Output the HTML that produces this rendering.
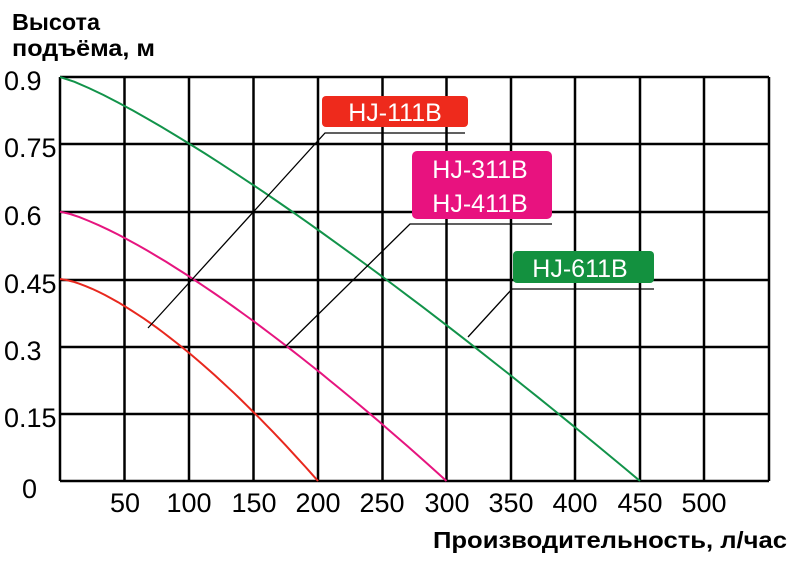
<!DOCTYPE html>
<html><head><meta charset="utf-8"><style>
html,body{margin:0;padding:0;background:#fff;}
svg{display:block;}
text{font-family:"Liberation Sans",sans-serif;}
</style></head><body>
<svg id="s" width="800" height="561" viewBox="0 0 800 561" xmlns="http://www.w3.org/2000/svg">
<g stroke="#000" stroke-width="2.5" fill="none">
<line x1="60" y1="77" x2="769" y2="77"/><line x1="60" y1="144" x2="769" y2="144"/><line x1="60" y1="212" x2="769" y2="212"/><line x1="60" y1="280" x2="769" y2="280"/><line x1="60" y1="347" x2="769" y2="347"/><line x1="60" y1="414" x2="769" y2="414"/><line x1="60" y1="481" x2="769" y2="481"/>
<line x1="60" y1="77" x2="60" y2="481"/><line x1="124.5" y1="77" x2="124.5" y2="481"/><line x1="189" y1="77" x2="189" y2="481"/><line x1="253.5" y1="77" x2="253.5" y2="481"/><line x1="318" y1="77" x2="318" y2="481"/><line x1="382.5" y1="77" x2="382.5" y2="481"/><line x1="446.5" y1="77" x2="446.5" y2="481"/><line x1="511" y1="77" x2="511" y2="481"/><line x1="575" y1="77" x2="575" y2="481"/><line x1="640" y1="77" x2="640" y2="481"/><line x1="704" y1="77" x2="704" y2="481"/><line x1="769" y1="77" x2="769" y2="481"/>
</g>
<path id="r" fill="none" stroke="#e8281e" stroke-width="2"/>
<path id="p" fill="none" stroke="#e6157f" stroke-width="2"/>
<path id="g" fill="none" stroke="#12934a" stroke-width="2"/>
<g stroke="#000" stroke-width="1.3" fill="none">
<polyline points="148,328 325,133 465,133"/>
<polyline points="285,347 410,224 552,224"/>
<polyline points="468,337 512,289 654,289"/>
</g>
<rect x="322" y="96" width="146" height="31" rx="4" fill="#ee2a1c"/>
<rect x="412" y="151" width="140" height="68" rx="5" fill="#e8127f"/>
<rect x="513" y="251" width="141" height="32" rx="4" fill="#13913f"/>
<g fill="#fff" font-size="25" text-anchor="middle">
<text x="395" y="121">HJ-111B</text>
<text x="480" y="178">HJ-311B</text>
<text x="480" y="212">HJ-411B</text>
<text x="580" y="277">HJ-611B</text>
</g>
<g fill="#000" font-size="27">
<text x="4" y="90">0.9</text><text x="4" y="157">0.75</text><text x="4" y="225">0.6</text><text x="4" y="293">0.45</text><text x="4" y="360">0.3</text><text x="4" y="427">0.15</text><text x="22" y="498">0</text>
</g>
<g fill="#000" font-size="27" text-anchor="middle">
<text x="125" y="512">50</text><text x="189" y="512">100</text><text x="254" y="512">150</text><text x="318" y="512">200</text><text x="382" y="512">250</text><text x="447" y="512">300</text><text x="511" y="512">350</text><text x="575" y="512">400</text><text x="640" y="512">450</text><text x="704" y="512">500</text>
</g>
<g fill="#000" font-size="23" font-weight="bold">
<text x="12" y="30" textLength="88" lengthAdjust="spacingAndGlyphs">Высота</text>
<text x="12" y="56" textLength="143" lengthAdjust="spacingAndGlyphs">подъёма, м</text>
<text x="433" y="548" textLength="354" lengthAdjust="spacingAndGlyphs">Производительность, л/час</text>
</g>
</svg>
<script>
function mk(id,h0,qx,n){var d="";for(var i=0;i<=40;i++){var t=i/40;var h=h0*(1-Math.pow(t,n));var x=60+t*(qx-60);var y=481-h/0.9*404;d+=(i?"L":"M")+x.toFixed(1)+","+y.toFixed(1);}document.getElementById(id).setAttribute("d",d);}
mk("r",0.45,318,1.45);mk("p",0.6,446.5,1.3);mk("g",0.9,640,1.2);
</script>
</body></html>
